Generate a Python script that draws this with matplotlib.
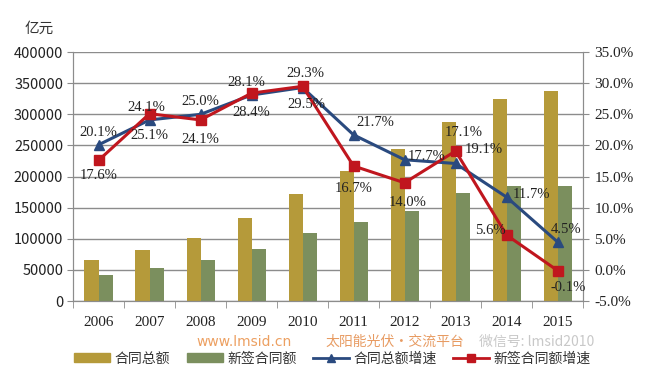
import matplotlib.pyplot as plt
import numpy as np
from matplotlib.lines import Line2D
from matplotlib.patches import Patch

plt.rcParams['font.family'] = ['Noto Sans CJK SC', 'DejaVu Sans']

years = ['2006', '2007', '2008', '2009', '2010', '2011', '2012', '2013', '2014', '2015']
total = [66000, 82000, 102000, 133000, 172000, 209000, 245000, 288000, 324000, 338000]
new_signed = [42000, 53000, 66000, 84000, 110000, 127000, 145000, 174000, 185000, 185000]
total_growth = [20.1, 24.1, 25.0, 28.1, 29.3, 21.7, 17.7, 17.1, 11.7, 4.5]
new_growth = [17.6, 25.1, 24.1, 28.4, 29.5, 16.7, 14.0, 19.1, 5.6, -0.1]

gold = '#B59A3A'
green = '#7B8F5E'
blue = '#2A4A7F'
red = '#C0161E'
grid_c = '#8C8C8C'

fig = plt.figure(figsize=(6.65, 3.84), dpi=100)
ax = fig.add_axes([0.1098, 0.216, 0.767, 0.6484])
ax2 = ax.twinx()

x = np.arange(len(years))
w = 0.275
ax.bar(x - w / 2, total, w, color=gold, zorder=2)
ax.bar(x + w / 2, new_signed, w, color=green, zorder=2)

ax.set_xlim(-0.5, len(years) - 0.5)
ax.set_ylim(0, 400000)
ax.set_yticks(range(0, 400001, 50000))
ax.yaxis.grid(True, color=grid_c, linewidth=1)
ax.set_axisbelow(True)
ax.tick_params(axis='y', labelsize=10.5, length=4, color=grid_c, pad=3, labelcolor='#222222')
ax.set_xticks(x)
ax.set_xticklabels(years, family=['Liberation Serif'], fontsize=11)
ax.tick_params(axis='x', length=0, pad=11, labelcolor='#222222')
ax.set_xticks(np.arange(-0.5, len(years)), minor=True)
ax.tick_params(axis='x', which='minor', length=5, color=grid_c, direction='out')

for a in (ax, ax2):
    a.spines['top'].set_visible(False)
    for s in ('left', 'right', 'bottom'):
        a.spines[s].set_color(grid_c)

ax2.plot(x, total_growth, color=blue, marker='^', markersize=7, linewidth=2.2, zorder=3)
ax2.plot(x, new_growth, color=red, marker='s', markersize=6.5, linewidth=2.2, zorder=4)
ax2.set_ylim(-5, 35)
ax2.set_yticks(range(-5, 36, 5))
ax2.set_yticklabels(['%.1f%%' % v for v in range(-5, 36, 5)], family=['Liberation Serif'])
ax2.tick_params(axis='y', labelsize=11, length=4, color=grid_c, pad=4, labelcolor='#222222')

# data labels (offsets in points)
blue_off = [(0, 9), (-2, 9), (0, 9), (-4, 9), (2, 10), (16, 9), (16, 2), (6, 22), (18, 2), (6, 9)]
red_off = [(0, -11), (0, -16), (0, -14), (0, -14), (3, -13), (0, -16), (2, -14), (20, 1), (-12, 3), (8, -12)]
lbl_font = dict(family=['Liberation Serif'], fontsize=10.5, color='#222222', ha='center', va='center', zorder=6)
for i in range(len(years)):
    ax2.annotate('%.1f%%' % total_growth[i], (x[i], total_growth[i]), xytext=blue_off[i],
                 textcoords='offset points', **lbl_font)
    ax2.annotate('%.1f%%' % new_growth[i], (x[i], new_growth[i]), xytext=red_off[i],
                 textcoords='offset points', **lbl_font)

fig.text(0.037, 0.925, '亿元', fontsize=10.5, color='#333333', ha='left', va='center')

# watermark
fig.text(0.295, 0.11, 'www.lmsid.cn', fontsize=10, color='#E8883A', alpha=0.8, ha='left', va='center',
         family=['DejaVu Sans'])
fig.text(0.49, 0.11, '太阳能光伏·交流平台', fontsize=10, color='#E07A2E', alpha=0.75, ha='left',
         va='center', style='italic')
fig.text(0.72, 0.11, '微信号: lmsid2010', fontsize=10, color='#BBBBBB', alpha=0.8, ha='left', va='center')

handles = [Patch(color=gold), Patch(color=green),
           Line2D([], [], color=blue, marker='^', markersize=6, linewidth=2),
           Line2D([], [], color=red, marker='s', markersize=6, linewidth=2)]
labels = ['合同总额', '新签合同额', '合同总额增速', '新签合同额增速']
fig.legend(handles, labels, loc='center', bbox_to_anchor=(0.5, 0.066), ncol=4, frameon=False,
           fontsize=10, handlelength=2.6, handleheight=0.6, columnspacing=1.2, handletextpad=0.3,
           labelcolor='#333333')

fig.savefig('out.png', dpi=100)
